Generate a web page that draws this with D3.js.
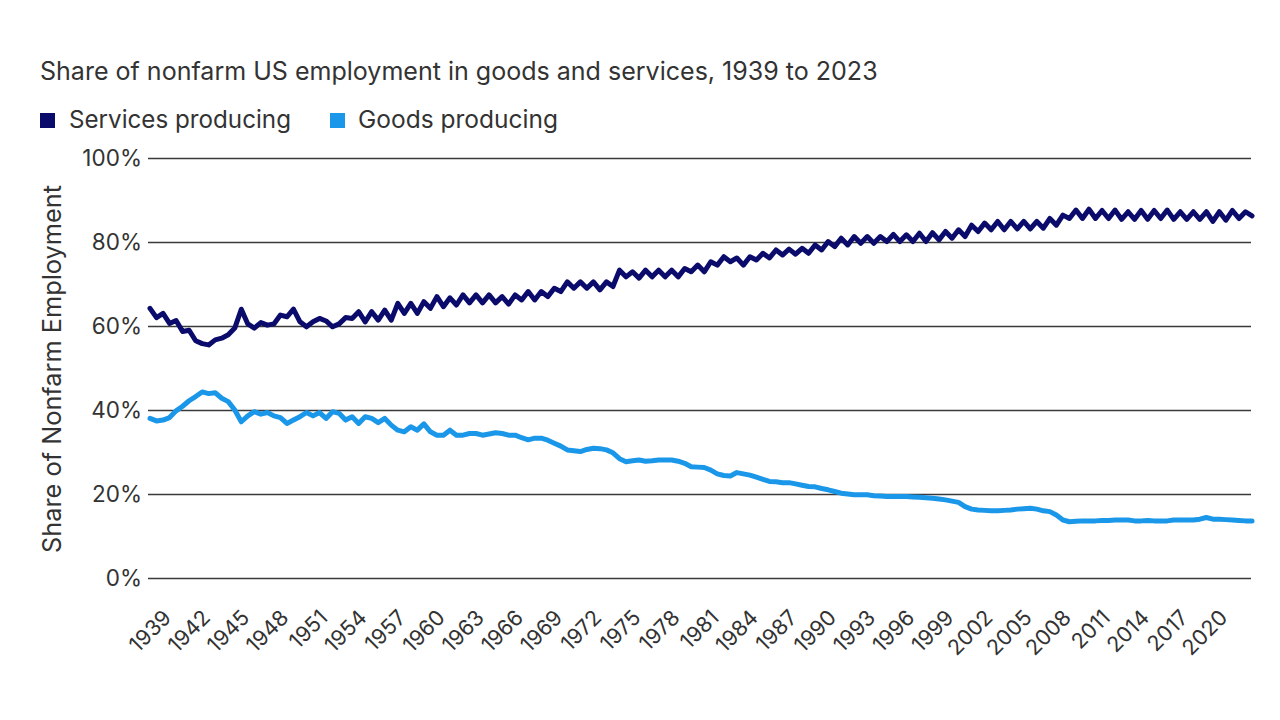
<!DOCTYPE html>
<html>
<head>
<meta charset="utf-8">
<script src="https://cdn.jsdelivr.net/npm/d3@7"></script>
<style>
  html, body { margin: 0; padding: 0; background: #ffffff; }
  svg { display: block; }
  text { font-family: Inter, "Noto Sans", "Liberation Sans", sans-serif; fill: #333333; }
</style>
</head>
<body>
<svg id="chart" width="1280" height="720"></svg>
<script>
// ---------------- DATA ----------------
const titleText = "Share of nonfarm US employment in goods and services, 1939 to 2023";
const yAxisTitle = "Share of Nonfarm Employment";
const seriesNames = ["Services producing", "Goods producing"];

const years = [1939,1940,1941,1942,1943,1944,1945,1946,1947,1948,1949,
  1950,1951,1952,1953,1954,1955,1956,1957,1958,1959,
  1960,1961,1962,1963,1964,1965,1966,1967,1968,1969,
  1970,1971,1972,1973,1974,1975,1976,1977,1978,1979,
  1980,1981,1982,1983,1984,1985,1986,1987,1988,1989,
  1990,1991,1992,1993,1994,1995,1996,1997,1998,1999,
  2000,2001,2002,2003,2004,2005,2006,2007,2008,2009,
  2010,2011,2012,2013,2014,2015,2016,2017,2018,2019,
  2020,2021,2022,2023];

// Services producing share (%), early-year (January) readings
const servicesJan = [64.2,63.0,61.3,59.0,55.8,56.7,57.9,64.0,59.5,60.2,62.6,
  64.0,59.8,61.8,59.8,62.0,63.4,63.4,63.8,65.4,65.4,
  65.8,67.0,66.7,67.4,67.4,67.4,67.0,67.4,68.2,68.2,
  69.0,70.5,70.5,70.5,70.5,73.3,72.9,73.3,73.3,73.3,
  73.7,74.5,75.3,76.5,76.2,76.5,77.3,78.1,78.3,78.5,
  79.3,80.1,80.9,81.3,81.3,81.3,81.8,81.7,82.1,82.2,
  82.5,82.9,84.0,84.5,84.9,84.9,84.9,84.9,85.6,86.4,
  87.6,87.8,87.5,87.6,87.2,87.5,87.5,87.6,87.2,87.2,
  87.2,87.2,87.5,87.2];
// Services producing share (%), mid-year (July) readings
const servicesJul = [62.0,60.6,58.7,56.5,55.5,57.1,59.5,60.5,60.8,60.5,62.2,
  61.0,61.0,61.2,60.5,61.8,61.0,61.4,61.4,63.0,63.0,
  64.2,64.6,65.0,65.5,65.5,65.5,65.2,66.2,66.2,67.0,
  68.2,69.0,69.0,68.6,69.4,71.7,71.4,71.7,71.7,71.7,
  72.9,72.9,74.5,75.3,74.5,75.7,76.2,76.9,77.1,77.3,
  78.1,78.9,79.3,79.7,79.7,80.1,80.1,80.1,80.1,80.5,
  80.9,81.3,82.5,82.9,82.9,83.1,83.1,83.3,84.0,85.6,
  85.6,85.6,85.6,85.4,85.4,85.4,85.6,85.4,85.4,85.4,
  84.9,85.2,85.6,86.2];

// Goods producing share (%), January readings
const goodsJan = [38.0,37.6,39.8,42.2,44.3,44.1,42.0,37.2,39.6,39.4,38.2,
  37.6,39.4,39.4,39.6,37.6,36.8,38.0,38.0,35.2,36.0,
  36.7,34.0,35.2,34.0,34.4,34.3,34.4,34.0,32.9,33.3,
  32.1,30.5,30.1,30.9,30.5,28.4,27.9,27.8,28.1,28.1,
  27.3,26.4,25.7,24.4,25.1,24.5,23.5,22.9,22.7,22.1,
  21.7,21.0,20.2,19.8,19.8,19.5,19.4,19.4,19.2,19.0,
  18.6,18.0,16.4,16.1,16.0,16.2,16.5,16.4,15.8,13.8,
  13.5,13.6,13.7,13.8,13.8,13.6,13.6,13.6,13.8,13.8,
  14.4,14.0,13.8,13.6];
// Goods producing share (%), July readings
const goodsJul = [37.4,38.2,40.9,43.2,43.9,42.8,40.0,38.6,39.0,38.6,36.8,
  38.4,38.6,38.0,39.2,38.4,38.4,37.0,36.4,34.8,35.2,
  34.8,34.0,34.0,34.4,34.0,34.6,34.0,33.4,33.3,32.8,
  31.4,30.3,30.6,30.8,29.8,27.7,28.1,27.9,28.1,27.8,
  26.5,26.3,24.8,24.3,24.8,24.0,23.0,22.7,22.4,21.8,
  21.3,20.6,20.0,19.8,19.6,19.4,19.4,19.3,19.1,18.8,
  18.3,17.0,16.2,16.0,16.1,16.4,16.6,16.0,15.0,13.4,
  13.6,13.6,13.7,13.8,13.6,13.7,13.6,13.8,13.8,14.0,
  14.0,13.9,13.7,13.6];

const xTickYears = [1939,1942,1945,1948,1951,1954,1957,1960,1963,1966,1969,
  1972,1975,1978,1981,1984,1987,1990,1993,1996,1999,2002,2005,2008,2011,2014,2017,2020];
const yTickValues = [0,20,40,60,80,100];

const colors = { services: "#0b0b6c", goods: "#1b97e9" };

// ---------------- CHART ----------------
const svg = d3.select("#chart");
const plot = { left: 150, right: 1252, top: 158, bottom: 578 };

const x = d3.scaleLinear().domain([1939, 2023.5]).range([plot.left, plot.right]);
const y = d3.scaleLinear().domain([0, 100]).range([plot.bottom, plot.top]);

function toPoints(jan, jul) {
  const pts = [];
  years.forEach((yr, i) => {
    pts.push({ t: yr, v: jan[i] });
    pts.push({ t: yr + 0.5, v: jul[i] });
  });
  return pts;
}
const servicesPts = toPoints(servicesJan, servicesJul);
const goodsPts = toPoints(goodsJan, goodsJul);

// fit text helper: scale font-size so rendered width equals target
function fitWidth(sel, target, base) {
  sel.style("font-size", base + "px");
  const w = sel.node().getComputedTextLength();
  sel.style("font-size", (base * target / w).toFixed(2) + "px");
}

// Title
const title = svg.append("text").attr("x", 40).attr("y", 80).text(titleText);
fitWidth(title, 838, 22);

// Legend
const legend = svg.append("g");
legend.append("rect").attr("x", 40).attr("y", 113).attr("width", 15).attr("height", 15).attr("fill", colors.services);
const l1 = legend.append("text").attr("x", 69).attr("y", 128).text(seriesNames[0]);
fitWidth(l1, 222, 22);
legend.append("rect").attr("x", 330).attr("y", 113).attr("width", 15).attr("height", 15).attr("fill", colors.goods);
const l2 = legend.append("text").attr("x", 358).attr("y", 128).text(seriesNames[1]);
fitWidth(l2, 200, 22);

// Y gridlines + labels via axis
const yAxis = d3.axisLeft(y)
  .tickValues(yTickValues)
  .tickFormat(d => d + "%")
  .tickSize(-(plot.right - plot.left + 1))
  .tickPadding(8);
const yg = svg.append("g").attr("transform", `translate(${plot.left - 2},0)`).call(yAxis);
yg.select(".domain").remove();
yg.selectAll(".tick line").attr("stroke", "#3a3a3a").attr("stroke-width", 1.4);
yg.selectAll(".tick text")
  .style("font-family", "Inter, 'Noto Sans', sans-serif")
  .style("font-size", "22.5px")
  .attr("fill", "#333")
  .attr("x", -6);

// X axis labels
const xAxis = d3.axisBottom(x)
  .tickValues(xTickYears)
  .tickFormat(d => String(d))
  .tickSize(0);
const xg = svg.append("g").attr("transform", `translate(0,${plot.bottom})`).call(xAxis);
xg.select(".domain").remove();
xg.selectAll(".tick text")
  .style("font-family", "Inter, 'Noto Sans', sans-serif")
  .style("font-size", "21.5px")
  .attr("fill", "#333")
  .attr("text-anchor", "end")
  .attr("dy", null)
  .attr("y", 0)
  .attr("transform", "translate(22,41) rotate(-45)");

// Y axis title
const yt = svg.append("text")
  .attr("transform", `translate(61,369) rotate(-90)`)
  .attr("text-anchor", "middle")
  .text(yAxisTitle);
fitWidth(yt, 368, 22);

// Lines
const line = d3.line().x(d => x(d.t)).y(d => y(d.v)).curve(d3.curveLinear);

svg.append("path").datum(goodsPts)
  .attr("d", line)
  .attr("fill", "none")
  .attr("stroke", colors.goods)
  .attr("stroke-width", 5)
  .attr("stroke-linejoin", "round")
  .attr("stroke-linecap", "round");

svg.append("path").datum(servicesPts)
  .attr("d", line)
  .attr("fill", "none")
  .attr("stroke", colors.services)
  .attr("stroke-width", 5)
  .attr("stroke-linejoin", "round")
  .attr("stroke-linecap", "round");
</script>
</body>
</html>
